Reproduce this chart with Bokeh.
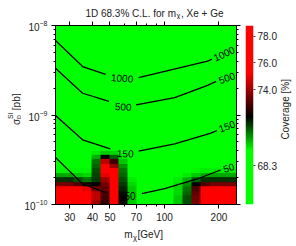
import numpy as np
from bokeh.plotting import figure
from bokeh.layouts import row, column
from bokeh.models import (LinearColorMapper, Range1d, FixedTicker, LogAxis,
                          PrintfTickFormatter, ColumnDataSource)
from bokeh.core.properties import value
from bokeh.embed import file_html
from bokeh.resources import INLINE

# ---------------- data ----------------
mass_lo, mass_hi = 25, 250
sigma_lo, sigma_hi = 1e-10, 1e-8
x_major = [30, 40, 50, 70, 100, 200]
x_minor = [60, 80, 90]
y_major = [1e-10, 1e-9, 1e-8]
y_minor = [2e-10, 3e-10, 4e-10, 5e-10, 6e-10, 7e-10, 8e-10, 9e-10,
           2e-9, 3e-9, 4e-9, 5e-9, 6e-9, 7e-9, 8e-9, 9e-9]
cbar_ticks = [68.3, 74.0, 76.0, 78.0]
cov_low, cov_high = 65.4, 78.8

# coverage [%] on a grid: 20 log-mass columns (25..250 GeV),
# 12 log-sigma rows covering 1e-10 .. 10^-9.4 pb, listed top row first
# (everything above is at the nominal 68.3 %)
cov_rows = [
    [68.3, 68.3, 68.3, 68.3, 69.6, 70.0, 69.8, 68.3, 68.3, 68.3, 68.3, 68.3, 68.3, 68.3, 68.3, 68.3, 68.3, 68.3, 68.3, 68.3],
    [68.3, 68.3, 68.3, 68.3, 70.2, 72.0, 71.0, 69.6, 68.3, 68.3, 68.3, 68.3, 68.3, 68.3, 68.3, 68.3, 68.3, 68.3, 68.3, 68.3],
    [68.3, 68.3, 68.3, 68.3, 70.8, 74.5, 72.8, 70.0, 68.3, 68.3, 68.3, 68.3, 68.3, 68.3, 68.3, 68.3, 68.3, 68.3, 68.3, 68.3],
    [68.3, 68.3, 68.3, 68.3, 71.0, 76.0, 74.0, 70.5, 68.3, 68.3, 68.3, 68.3, 68.3, 68.3, 68.3, 68.3, 68.3, 68.3, 68.3, 68.3],
    [69.5, 69.5, 69.5, 69.5, 71.2, 76.0, 75.5, 70.8, 68.3, 68.3, 68.3, 68.3, 68.3, 68.3, 68.3, 69.5, 69.6, 69.6, 69.6, 69.6],
    [70.3, 70.3, 70.0, 69.8, 71.3, 75.0, 76.5, 71.0, 68.3, 68.3, 68.3, 68.3, 68.3, 68.3, 69.6, 70.0, 70.3, 70.3, 70.3, 70.3],
    [71.5, 71.5, 71.2, 70.8, 71.4, 74.0, 76.5, 71.2, 69.6, 68.3, 68.3, 68.3, 68.3, 69.6, 70.2, 71.0, 71.5, 71.5, 71.5, 71.5],
    [73.5, 73.5, 73.0, 72.3, 72.0, 73.5, 76.5, 71.4, 69.8, 68.3, 68.3, 68.3, 68.3, 69.7, 70.5, 72.0, 73.0, 73.5, 73.5, 73.5],
    [76.5, 76.5, 76.0, 75.0, 73.5, 73.2, 76.5, 71.6, 70.0, 68.3, 68.3, 68.3, 68.3, 69.8, 70.8, 73.0, 75.5, 76.5, 76.5, 76.5],
    [77.0, 77.0, 77.0, 76.0, 74.5, 73.0, 76.5, 71.8, 70.0, 68.3, 68.3, 68.3, 68.3, 69.8, 71.0, 73.3, 76.0, 77.0, 77.0, 77.0],
    [77.0, 77.0, 77.0, 77.0, 74.5, 72.8, 76.5, 72.0, 70.0, 68.3, 68.3, 68.3, 68.3, 70.0, 71.2, 73.5, 76.0, 77.0, 77.0, 77.0],
    [77.0, 77.0, 77.0, 77.0, 74.0, 72.5, 76.5, 72.0, 70.0, 68.3, 68.3, 68.3, 68.3, 70.0, 71.2, 73.5, 76.0, 77.0, 77.0, 77.0],
]
grid_sigma_top = 10 ** -9.4

# contour lines (number of events), split at their inline labels
c1000_left_m = [25, 35.3, 47.3]
c1000_left_s = [6.8e-9, 3.48e-9, 2.84e-9]
c1000_right_m = [72, 173, 183]
c1000_right_s = [2.61e-9, 3.99e-9, 4.2e-9]
c500_left_m = [25, 35.3, 49.4]
c500_left_s = [3.33e-9, 1.75e-9, 1.42e-9]
c500_right_m = [69.7, 114, 173, 193]
c500_right_s = [1.30e-9, 1.56e-9, 2.14e-9, 2.37e-9]
c150_left_m = [25, 35.3, 50.2]
c150_left_s = [9.86e-10, 5.28e-10, 4.19e-10]
c150_right_m = [72, 114, 180.6, 195]
c150_right_s = [3.94e-10, 4.77e-10, 6.26e-10, 6.71e-10]
c50_left_m = [25, 35.3, 48.2]
c50_left_s = [3.35e-10, 1.70e-10, 1.34e-10]
c50_right_m = [75.1, 100.3, 153, 204]
c50_right_s = [1.32e-10, 1.50e-10, 1.94e-10, 2.43e-10]

label_text = ["1000", "1000", "500", "500", "150", "150", "50", "50"]
label_m = [58.4, 213, 59.2, 221, 60.7, 221, 64.6, 226]
label_s = [2.6e-9, 4.87e-9, 1.25e-9, 2.62e-9, 3.74e-10, 7.53e-10, 1.26e-10, 2.59e-10]
label_angle = [-0.08, 0.42, -0.05, 0.35, -0.03, 0.35, 0.0, 0.3]

# ---------------- colour map ----------------
def ramp(f):
    if f <= 0.30:
        return (0, 255, 0)
    if f <= 0.49:
        return (0, int(round(255 * (0.49 - f) / 0.19)), 0)
    if f <= 0.74:
        return (int(round(255 * (f - 0.49) / 0.25)), 0, 0)
    return (255, 0, 0)

palette = ["#%02x%02x%02x" % ramp(i / 255) for i in range(256)]
mapper = LinearColorMapper(palette=palette, low=cov_low, high=cov_high)

FONT = "Liberation Sans"
TXT = "#222222"

TITLE_H = 19
ROW_H = 205
XLAB_H = 246 - TITLE_H - ROW_H
YLAB_W = 21

# ---------------- main plot ----------------
p = figure(width=242 - YLAB_W, height=ROW_H, x_axis_type="log", y_axis_type="log",
           x_range=Range1d(mass_lo, mass_hi), y_range=Range1d(sigma_lo, sigma_hi),
           output_backend="svg", toolbar_location=None,
           min_border_left=52 - YLAB_W, min_border_right=6, min_border_top=6, min_border_bottom=20,
           background_fill_color="#00ff00", outline_line_color="black",
           border_fill_color="white")
p.grid.visible = False

grid = np.array(cov_rows[::-1])
p.image(image=[grid], x=mass_lo, y=sigma_lo, dw=mass_hi - mass_lo,
        dh=grid_sigma_top - sigma_lo, color_mapper=mapper)

xs = [c1000_left_m, c1000_right_m, c500_left_m, c500_right_m,
      c150_left_m, c150_right_m, c50_left_m, c50_right_m]
ys = [c1000_left_s, c1000_right_s, c500_left_s, c500_right_s,
      c150_left_s, c150_right_s, c50_left_s, c50_right_s]
p.multi_line(xs=xs, ys=ys, line_color="black", line_width=1.3)

lsrc = ColumnDataSource(dict(x=label_m, y=label_s, t=label_text, a=label_angle))
p.text(x="x", y="y", text="t", angle="a", source=lsrc, text_font=value(FONT),
       text_font_size="10px", text_align="center", text_baseline="middle",
       text_color="black")

def style_axis(ax, show_labels):
    ax.major_tick_in = 0
    ax.major_tick_out = 4
    ax.minor_tick_in = 0
    ax.minor_tick_out = 2
    ax.axis_line_color = "black"
    ax.major_tick_line_color = "black"
    ax.minor_tick_line_color = "black"
    ax.major_label_text_font = FONT
    if show_labels:
        ax.major_label_text_color = TXT
        ax.major_label_text_font_size = "10px"
        ax.major_label_standoff = 4
    else:
        ax.major_label_text_color = None
        ax.major_label_text_font_size = "1px"
        ax.major_label_standoff = 0

p.xaxis.ticker = FixedTicker(ticks=x_major, minor_ticks=x_minor)
p.xaxis.formatter = PrintfTickFormatter(format="%d")
p.yaxis.ticker = FixedTicker(ticks=y_major, minor_ticks=y_minor)
style_axis(p.xaxis[0], True)
style_axis(p.yaxis[0], True)

top_ax = LogAxis(ticker=FixedTicker(ticks=x_major, minor_ticks=x_minor))
right_ax = LogAxis(ticker=FixedTicker(ticks=y_major, minor_ticks=y_minor))
style_axis(top_ax, False)
style_axis(right_ax, False)
p.add_layout(top_ax, "above")
p.add_layout(right_ax, "right")

# ---------------- colour bar ----------------
p2 = figure(width=37, height=ROW_H, x_range=Range1d(0, 1), y_range=Range1d(cov_low, cov_high),
            y_axis_location="right", x_axis_location=None,
            output_backend="svg", toolbar_location=None,
            min_border_left=3, min_border_right=23, min_border_top=6, min_border_bottom=20,
            outline_line_color=None, border_fill_color="white")
p2.grid.visible = False
p2.image(image=[np.linspace(cov_low, cov_high, 256).reshape(256, 1)], x=0, y=cov_low,
         dw=1, dh=cov_high - cov_low, color_mapper=mapper)
ya = p2.yaxis[0]
ya.ticker = FixedTicker(ticks=cbar_ticks, minor_ticks=[])
ya.formatter = PrintfTickFormatter(format="%.1f")
ya.axis_line_color = None
ya.major_tick_in = 0
ya.major_tick_out = 2
ya.major_tick_line_color = "#444444"
ya.minor_tick_line_color = None
ya.major_label_standoff = 2
ya.major_label_text_font = FONT
ya.major_label_text_font_size = "10px"
ya.major_label_text_color = TXT

# ---------------- text panels (pixel coordinates, y downwards) ----------------
def panel(w, h):
    f = figure(width=w, height=h, x_range=Range1d(0, w), y_range=Range1d(h, 0),
               output_backend="svg", toolbar_location=None, min_border=0,
               min_border_left=0, min_border_right=0, min_border_top=0, min_border_bottom=0,
               x_axis_location=None, y_axis_location=None, outline_line_color=None,
               border_fill_color="white", background_fill_color="white")
    f.grid.visible = False
    return f

def txt(f, x, y, s, size="10px", angle=0.0, align="left", baseline="alphabetic"):
    f.text(x=[x], y=[y], text=[s], angle=angle, text_font=value(FONT), text_font_size=size,
           text_color=TXT, text_align=align, text_baseline=baseline)

title_fig = panel(296, TITLE_H)
txt(title_fig, 175.5, 12.5, "1D 68.3% C.L. for m", align="right")
txt(title_fig, 176.0, 15.0, "\u03c7", size="7.5px")
txt(title_fig, 180.5, 12.5, ", Xe + Ge")

ylab_fig = panel(YLAB_W, ROW_H)
oy = TITLE_H
txt(ylab_fig, 16, 133 - oy, "\u03c3", angle=np.pi / 2)
txt(ylab_fig, 10, 126 - oy, "SI", size="7px", angle=np.pi / 2)
txt(ylab_fig, 18, 126 - oy, "p", size="7px", angle=np.pi / 2)
txt(ylab_fig, 16, 116 - oy, "[pb]", angle=np.pi / 2)

cov_fig = panel(17, ROW_H)
txt(cov_fig, 6, 115 - oy, "Coverage [%]", angle=np.pi / 2, align="center", baseline="middle")

xlab_fig = panel(296, XLAB_H)
ox = TITLE_H + ROW_H
txt(xlab_fig, 132.0, 234 - ox, "m", align="right")
txt(xlab_fig, 132.5, 237 - ox, "\u03c7", size="7.5px")
txt(xlab_fig, 137.0, 234 - ox, "[GeV]")

layout = column(title_fig, row(ylab_fig, p, p2, cov_fig), xlab_fig)
open("out.html", "w").write(file_html(layout, INLINE))
